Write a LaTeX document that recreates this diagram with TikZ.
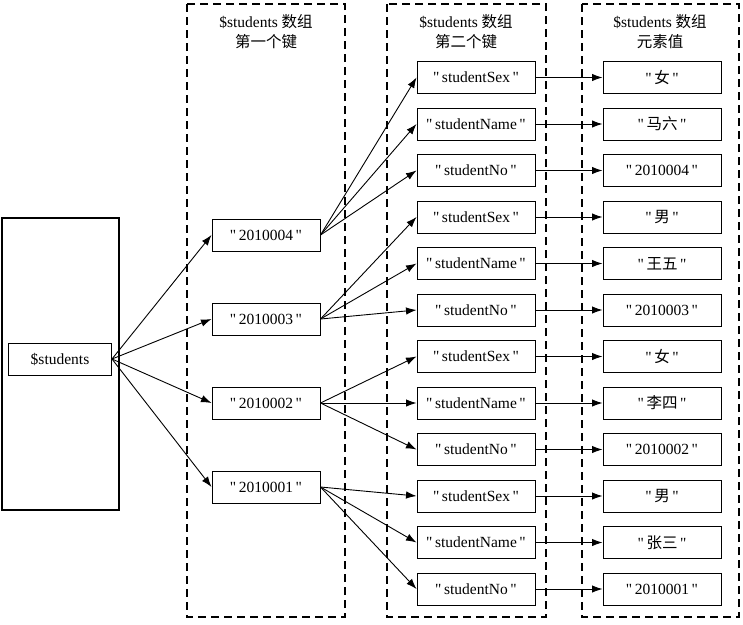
\documentclass[tikz,border=0pt]{standalone}
\usepackage{fontspec}
\setmainfont{Liberation Serif}[Ligatures=TeXOff]
\newfontfamily\cjk{Noto Sans CJK SC}
\usetikzlibrary{arrows.meta}

\tikzset{
  box/.style={draw, line width=1pt, minimum height=32pt, inner sep=0pt},
  keybox/.style={box, minimum width=108pt},
  namebox/.style={box, minimum width=118pt},
  valbox/.style={box, minimum width=118pt},
  frame/.style={draw, -, line width=1.4pt, dash pattern=on 8pt off 5pt},
  title/.style={align=center, font=\fontsize{15.5}{20}\selectfont}
}

\begin{document}
\begin{tikzpicture}[x=1pt, y=1pt, ->, >={Latex[length=10.5pt,width=7.5pt]},
                line width=0.9pt, font=\fontsize{15.5}{18}\selectfont]
		\useasboundingbox (0,0) rectangle (743,-624);
		% frames
		\draw [-, line width=1.2pt] (2,-218) rectangle (119,-510);
		\draw [frame] (187,-4) rectangle (345,-617);
		\draw [frame] (387,-4) rectangle (546,-617);
		\draw [frame] (582,-4) rectangle (739,-617);
		\node [title] (t1) at (266,-32) {\$students {\cjk 数组}\\{\cjk 第一个键}};
		\node [title] (t2) at (466,-32) {\$students {\cjk 数组}\\{\cjk 第二个键}};
		\node [title] (t3) at (660,-32) {\$students {\cjk 数组}\\{\cjk 元素值}};

		\node [box, minimum width=103pt] (s) at (60,-359) {\$students};

		% first keys
		\node [keybox] (k4) at (266,-235) {"\,2010004\,"};
		\node [keybox, node distance=84pt] (k3) [below of=k4] {"\,2010003\,"};
		\node [keybox, node distance=84pt] (k2) [below of=k3] {"\,2010002\,"};
		\node [keybox, node distance=84pt] (k1) [below of=k2] {"\,2010001\,"};

		% second keys
		\begin{scope}[node distance=46.5pt]
			\node [namebox] (n1) at (476,-77.5) {"\,studentSex\,"};
			\node [namebox] (n2) [below of=n1] {"\,studentName\,"};
			\node [namebox] (n3) [below of=n2] {"\,studentNo\,"};
			\node [namebox] (n4) [below of=n3] {"\,studentSex\,"};
			\node [namebox] (n5) [below of=n4] {"\,studentName\,"};
			\node [namebox] (n6) [below of=n5] {"\,studentNo\,"};
			\node [namebox] (n7) [below of=n6] {"\,studentSex\,"};
			\node [namebox] (n8) [below of=n7] {"\,studentName\,"};
			\node [namebox] (n9) [below of=n8] {"\,studentNo\,"};
			\node [namebox] (n10) [below of=n9] {"\,studentSex\,"};
			\node [namebox] (n11) [below of=n10] {"\,studentName\,"};
			\node [namebox] (n12) [below of=n11] {"\,studentNo\,"};
		\end{scope}

		% values
		\begin{scope}[node distance=186pt]
			\node [valbox] (v1) [right of=n1] {"\,{\cjk 女}\,"};
			\node [valbox] (v2) [right of=n2] {"\,{\cjk 马六}\,"};
			\node [valbox] (v3) [right of=n3] {"\,2010004\,"};
			\node [valbox] (v4) [right of=n4] {"\,{\cjk 男}\,"};
			\node [valbox] (v5) [right of=n5] {"\,{\cjk 王五}\,"};
			\node [valbox] (v6) [right of=n6] {"\,2010003\,"};
			\node [valbox] (v7) [right of=n7] {"\,{\cjk 女}\,"};
			\node [valbox] (v8) [right of=n8] {"\,{\cjk 李四}\,"};
			\node [valbox] (v9) [right of=n9] {"\,2010002\,"};
			\node [valbox] (v10) [right of=n10] {"\,{\cjk 男}\,"};
			\node [valbox] (v11) [right of=n11] {"\,{\cjk 张三}\,"};
			\node [valbox] (v12) [right of=n12] {"\,2010001\,"};
		\end{scope}

		\path (s.east) edge (k4.west)
		      (s.east) edge (k3.west)
		      (s.east) edge (k2.west)
		      (s.east) edge (k1.west);
		\path (k4.east) edge (n1.west) edge (n2.west) edge (n3.west)
		      (k3.east) edge (n4.west) edge (n5.west) edge (n6.west)
		      (k2.east) edge (n7.west) edge (n8.west) edge (n9.west)
		      (k1.east) edge (n10.west) edge (n11.west) edge (n12.west);
		\path (n1) edge (v1)  (n2) edge (v2)  (n3) edge (v3)
		      (n4) edge (v4)  (n5) edge (v5)  (n6) edge (v6)
		      (n7) edge (v7)  (n8) edge (v8)  (n9) edge (v9)
		      (n10) edge (v10)  (n11) edge (v11)  (n12) edge (v12);
\end{tikzpicture}
\end{document}
